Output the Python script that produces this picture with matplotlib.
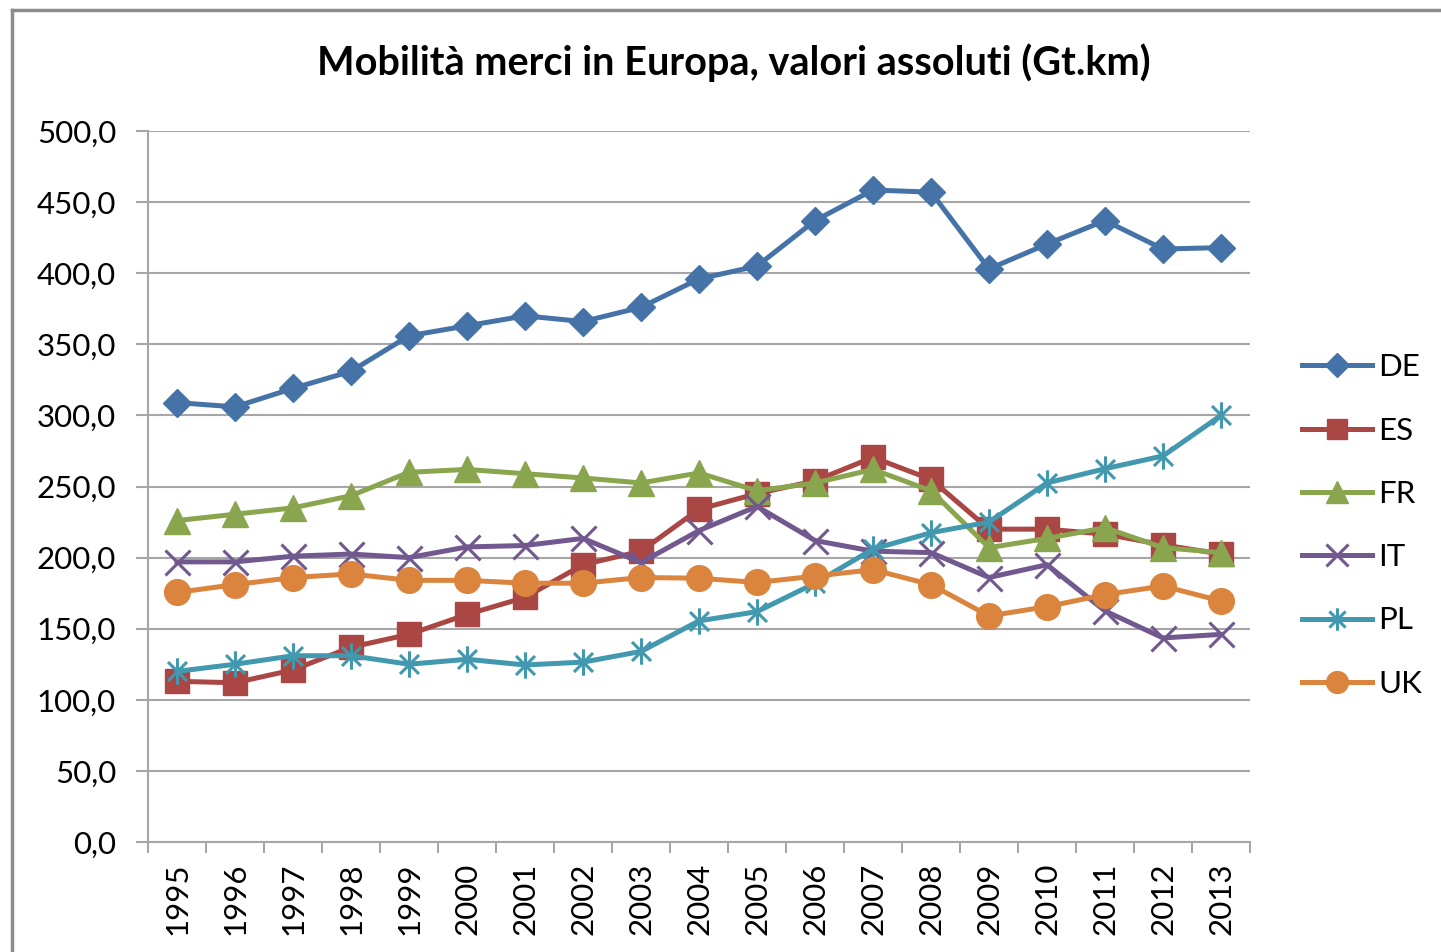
import matplotlib
matplotlib.use("Agg")
import matplotlib.pyplot as plt
from matplotlib.path import Path
from matplotlib.lines import Line2D
from matplotlib.ticker import FuncFormatter, FixedLocator

plt.rcParams['font.family'] = ['Lato', 'DejaVu Sans']

years = ['1995', '1996', '1997', '1998', '1999', '2000', '2001', '2002', '2003', '2004',
         '2005', '2006', '2007', '2008', '2009', '2010', '2011', '2012', '2013']

DE = [309, 306, 319, 331, 356, 363, 370, 366, 376, 396, 405, 437, 458.5, 457, 403, 420.5, 437, 417, 418]
ES = [113, 112, 121, 137, 146, 160, 172, 195, 204.5, 234, 245, 254, 270.5, 255, 220, 220, 216.5, 209, 202.5]
FR = [226, 230.5, 235, 243.5, 260, 262, 259, 256, 252.5, 259.5, 247, 252.5, 262, 247, 207, 213.5, 221, 207, 203.5]
IT = [197, 197, 201, 202.5, 200, 207.5, 208.5, 213.5, 196.5, 219, 236, 212, 204.5, 203.5, 186, 195, 162.5, 143.5, 146]
PL = [120, 125, 131, 131, 125, 128.5, 124.5, 126.5, 134, 155.5, 162, 182, 206, 217.5, 225, 252.5, 262.5, 271.5, 300]
UK = [175.5, 181, 186, 188.5, 184, 184, 182, 182, 186, 185.5, 182.5, 187, 191.5, 181, 159, 165.5, 174, 180, 169.5]

series_names = ['DE', 'ES', 'FR', 'IT', 'PL', 'UK']
series_values = [DE, ES, FR, IT, PL, UK]

title = 'Mobilità merci in Europa, valori assoluti (Gt.km)'

colors = ['#4572A7', '#AA4643', '#89A54E', '#71588F', '#4198AF', '#DB843D']

star = Path([(0, -1), (0, 1), (-0.72, -0.72), (0.72, 0.72), (-0.72, 0.72), (0.72, -0.72)],
            [Path.MOVETO, Path.LINETO, Path.MOVETO, Path.LINETO, Path.MOVETO, Path.LINETO])

styles = [
    dict(marker='D', markersize=14.5),
    dict(marker='s', markersize=17.5),
    dict(marker='^', markersize=19),
    dict(marker='x', markersize=18, markeredgewidth=2.2),
    dict(marker=star, markersize=19, markeredgewidth=2.2, markerfacecolor='none'),
    dict(marker='o', markersize=18.5),
]

W, H = 1441, 952
fig = plt.figure(figsize=(W / 100, H / 100), dpi=100)
ax = fig.add_axes([148 / W, 1 - 842 / H, (1250 - 148) / W, (842 - 131) / H])

x = list(range(len(years)))
for name, vals, col, st in zip(series_names, series_values, colors, styles):
    kw = dict(st)
    kw.setdefault('markerfacecolor', col)
    ax.plot(x, vals, color=col, linewidth=3.6, markeredgecolor=col, label=name,
            solid_joinstyle='round', **kw)

ax.set_xlim(-0.5, len(years) - 0.5)
ax.set_ylim(0, 500)
ax.set_yticks([0, 50, 100, 150, 200, 250, 300, 350, 400, 450, 500])
ax.yaxis.set_major_formatter(FuncFormatter(lambda v, p: f"{v:.1f}".replace('.', ',')))
ax.set_xticks(x)
ax.set_xticklabels(years, rotation=90)
ax.xaxis.set_minor_locator(FixedLocator([i - 0.5 for i in range(len(years) + 1)]))

grid_col = '#A6A6A6'
ax.grid(axis='y', color=grid_col, linewidth=1.5)
ax.set_axisbelow(True)
for s in ['top', 'right']:
    ax.spines[s].set_visible(False)
for s in ['left', 'bottom']:
    ax.spines[s].set_color(grid_col)
    ax.spines[s].set_linewidth(1.5)

ax.tick_params(axis='y', which='major', length=9, width=1.5, color=grid_col,
               labelsize=22.5, pad=14, labelcolor='#000000')
ax.tick_params(axis='x', which='major', length=0, labelsize=22.5, pad=15)
ax.tick_params(axis='x', which='minor', length=8, width=1.5, color=grid_col)

fig.text(734 / W, 1 - 63 / H, title, ha='center', va='center', fontsize=28.5,
         fontweight='bold')

leg = ax.legend(loc='center left', bbox_to_anchor=(1302 / W, 1 - 525.5 / H),
                bbox_transform=fig.transFigure, frameon=False, fontsize=22.5,
                handlelength=2.25, handletextpad=0.2, labelspacing=1.13,
                borderpad=0, borderaxespad=0, markerscale=0.85)

border_col = '#8C8C8C'
fig.add_artist(Line2D([12 / W, 1], [1 - 10 / H, 1 - 10 / H], transform=fig.transFigure,
                      color=border_col, linewidth=2.5))
fig.add_artist(Line2D([12 / W, 12 / W], [0, 1 - 10 / H], transform=fig.transFigure,
                      color=border_col, linewidth=2.5))

fig.savefig('out.png', dpi=100)
